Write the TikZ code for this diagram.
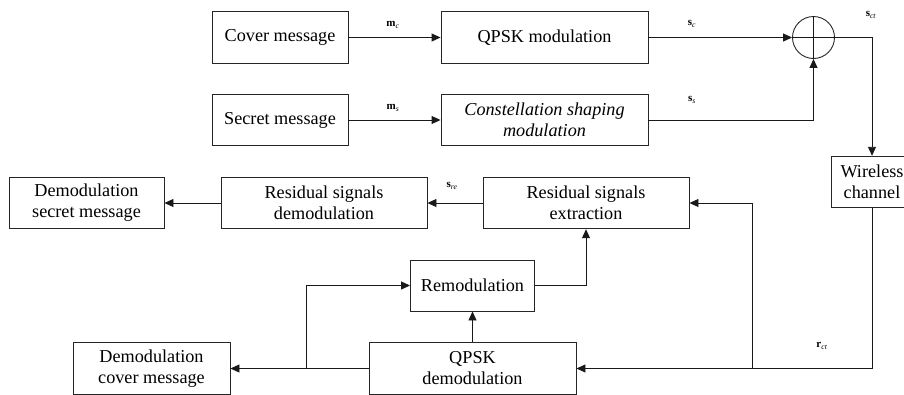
\documentclass[tikz,border=0pt]{standalone}
\usepackage{fontspec}
\setmainfont{Liberation Serif}
\usetikzlibrary{arrows.meta}
\begin{document}
\begin{tikzpicture}[x=1pt,y=-1pt,
  blk/.style={draw=black!85, line width=0.9pt, inner sep=0pt, align=center,
    font=\fontsize{18.2}{21}\selectfont, minimum height=51.5pt},
  lbl/.style={font=\fontsize{11}{12}\selectfont, inner sep=0pt},
  conn/.style={line width=0.9pt, draw=black!90},
  arr/.style={conn, -{Triangle[length=9pt,width=8pt]}}]
\useasboundingbox (0,0) rectangle (904,394);
\clip (0,0) rectangle (904,394);
% transmitter
\node[blk, minimum width=136pt] (cover) at (280,37.5) {Cover message};
\node[blk, minimum width=207pt] (qpsk) at (544.5,37.5) {QPSK modulation};
\node[blk, minimum width=136pt] (secret) at (280,120) {Secret message};
\node[blk, minimum width=207pt] (shape) at (544.5,120) {\textit{Constellation shaping}\\\textit{modulation}};
\node[draw=black!85, line width=0.9pt, circle, minimum size=42pt, inner sep=0pt] (adder) at (813.5,37.5) {};
\draw[conn] (adder.north) -- (adder.south);
\draw[conn] (adder.west) -- (adder.east);
\node[blk, minimum width=82pt] (wireless) at (872,182) {Wireless\\channel};
% receiver
\node[blk, minimum width=155pt] (demsec) at (86.5,203) {Demodulation\\secret message};
\node[blk, minimum width=206pt] (resdem) at (324,203) {Residual signals\\demodulation};
\node[blk, minimum width=206pt] (resext) at (586,203) {Residual signals\\extraction};
\node[blk, minimum width=124pt, minimum height=51pt] (remod) at (472.5,285.5) {Remodulation};
\node[blk, minimum width=157pt] (demcov) at (151.5,368.5) {Demodulation\\cover message};
\node[blk, minimum width=207pt] (qpskdem) at (472.5,368.5) {QPSK\\demodulation};
% labels
\node[lbl] (lmc) at (393,25) {\textbf{m}\textsubscript{\textit{c}}};
\node[lbl] (lms) at (393,108) {\textbf{m}\textsubscript{\textit{s}}};
\node[lbl] (lsc) at (692,24) {\textbf{s}\textsubscript{\textit{c}}};
\node[lbl] (lss) at (692,100) {\textbf{s}\textsubscript{\textit{s}}};
\node[lbl] (lsct) at (871,15) {\textbf{s}\textsubscript{\textit{ct}}};
\node[lbl] (lsre) at (452,186) {\textbf{s}\textsubscript{\textit{re}}};
\node[lbl] (lrct) at (822,346) {\textbf{r}\textsubscript{\textit{ct}}};
% connectors
\draw[arr] (cover.east) -- (qpsk.west);
\draw[arr] (secret.east) -- (shape.west);
\draw[arr] (qpsk.east) -- (adder.west);
\draw[arr] (shape.east) -| (adder.south);
\draw[arr] (adder.east) -| (wireless.north);
\coordinate (brA) at (752,368.5);
\coordinate (brB) at (306,368.5);
\draw[arr] (wireless.south) |- (qpskdem.east);
\draw[arr] (brA) |- (resext.east);
\draw[arr] (qpskdem.west) -- (demcov.east);
\draw[arr] (brB) |- (remod.west);
\draw[arr] (qpskdem.north) -- (remod.south);
\draw[arr] (remod.east) -| (resext.south);
\draw[arr] (resext.west) -- (resdem.east);
\draw[arr] (resdem.west) -- (demsec.east);
\end{tikzpicture}
\end{document}
